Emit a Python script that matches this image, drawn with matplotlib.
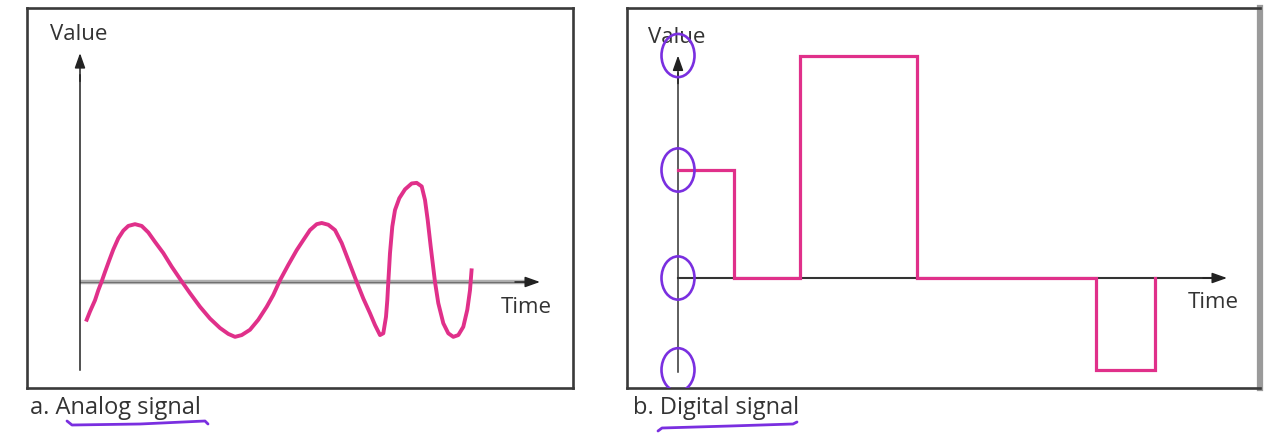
import matplotlib
matplotlib.use("Agg")
import matplotlib.pyplot as plt
from matplotlib.patches import Ellipse
from matplotlib.lines import Line2D

plt.rcParams['font.family'] = ['Open Sans', 'DejaVu Sans']

# analog signal (time in arbitrary units, value relative to first peak)
analog_t = [0.6, 1.0, 1.5, 1.83, 2.17, 2.5, 2.93, 3.33, 3.83, 4.33, 4.83, 5.5,
            6.17, 6.83, 7.5, 8.33, 9.17, 10.17, 11.0, 12.0, 13.0, 14.0, 14.83,
            15.5, 16.17, 17.0, 17.83, 18.67, 19.33, 20.0, 20.83, 21.67, 22.33,
            23.0, 23.67, 24.17, 24.83, 25.5, 26.17, 26.83, 27.67, 28.33, 29.0,
            29.5, 30.0, 30.33, 30.6, 30.73, 30.83, 31.0, 31.23, 31.5, 31.93,
            32.5, 33.17, 33.67, 34.17, 34.5, 34.77, 35.07, 35.5, 35.83, 36.33,
            36.83, 37.33, 37.83, 38.33, 38.73, 39.0, 39.17]
analog_v = [-0.67, -0.50, -0.31, -0.14, 0.01, 0.17, 0.37, 0.55, 0.74, 0.87, 0.95,
            0.98, 0.95, 0.84, 0.68, 0.49, 0.26, 0.01, -0.19, -0.42, -0.62, -0.78,
            -0.88, -0.93, -0.90, -0.81, -0.64, -0.42, -0.22, 0.03, 0.29, 0.54,
            0.71, 0.88, 0.98, 1.0, 0.97, 0.88, 0.66, 0.37, 0.0, -0.28, -0.53,
            -0.73, -0.90, -0.87, -0.59, -0.31, 0.0, 0.49, 0.94, 1.22, 1.42,
            1.57, 1.67, 1.68, 1.62, 1.39, 1.05, 0.60, 0.0, -0.36, -0.70,
            -0.87, -0.93, -0.90, -0.76, -0.47, -0.14, 0.23]

# digital signal: level changes
digital_t = [0.0, 5.6, 12.2, 23.9, 41.8, 47.7]
digital_v = [1.0, 0.0, 2.06, 0.0, -0.85, 0.0]

captions = ["a. Analog signal", "b. Digital signal"]

PINK = '#e0308a'
PURPLE = '#7a2fe0'
TEXT = '#333333'

fig = plt.figure(figsize=(12.8, 4.33), dpi=100)
W, H = 1280.0, 433.0


def panel(x0, x1, y0, y1):
    ax = fig.add_axes([x0 / W, 1 - y1 / H, (x1 - x0) / W, (y1 - y0) / H])
    ax.set_xticks([])
    ax.set_yticks([])
    for s in ax.spines.values():
        s.set_color('#3a3a3a')
        s.set_linewidth(1.9)
    return ax


def arrow(ax, start, tip, color='#222222', lw=1.1):
    ax.annotate('', xy=tip, xytext=start,
                arrowprops=dict(arrowstyle='-|>,head_length=0.9,head_width=0.32',
                                color=color, lw=lw, shrinkA=0, shrinkB=0))


# ---- a. analog ----
axa = panel(27, 573, 8, 388)
axa.set_xlim(-5.3, 49.3)
axa.set_ylim(-1.797, 4.644)
axa.plot([0, 44.5], [0, 0], color='#b0b0b0', lw=3.2, solid_capstyle='butt', zorder=1)
axa.plot([0, 44.5], [0, 0], color='#707070', lw=0.8, zorder=1)
arrow(axa, (43.5, 0), (46.0, 0))
axa.plot([0, 0], [-1.49, 3.5], color='#222222', lw=1.1, zorder=1)
arrow(axa, (0, 3.4), (0, 3.88))
axa.plot(analog_t, analog_v, color=PINK, lw=2.8, solid_joinstyle='round',
         solid_capstyle='butt', zorder=3)
axa.text(-0.1, 4.19, "Value", ha='center', va='center', fontsize=16, color=TEXT)
axa.text(44.6, -0.44, "Time", ha='center', va='center', fontsize=16, color=TEXT)

# ---- b. digital ----
axb = panel(627, 1260, 8, 388)
axb.spines['right'].set_color('#9a9a9a')
axb.spines['right'].set_linewidth(4.5)
axb.set_xlim(-5.1, 58.2)
axb.set_ylim(-1.0185, 2.5)
axb.plot([0, 53.5], [0, 0], color='#333333', lw=1.5, zorder=1)
arrow(axb, (52.5, 0), (54.9, 0))
axb.plot([0, 0], [-0.87, 1.9], color='#333333', lw=1.1, zorder=1)
arrow(axb, (0, 1.8), (0, 2.06))
axb.plot(digital_t, digital_v, drawstyle='steps-post', color=PINK, lw=2.3,
         solid_joinstyle='miter', zorder=3)
axb.text(-0.1, 2.23, "Value", ha='center', va='center', fontsize=16, color=TEXT)
axb.text(53.5, -0.23, "Time", ha='center', va='center', fontsize=16, color=TEXT)

# hand-drawn marks around the signal levels on the value axis
for lvl in sorted(set(digital_v)):
    axb.add_patch(Ellipse((0.0, lvl), 3.3, 0.40, fill=False,
                          edgecolor=PURPLE, lw=1.9, zorder=4))

# captions
fig.text(30 / W, 1 - 408 / H, captions[0], ha='left', va='center',
         fontsize=17, color=TEXT)
fig.text(633 / W, 1 - 408 / H, captions[1], ha='left', va='center',
         fontsize=17, color=TEXT)

# hand-drawn underlines
fig.add_artist(Line2D([67 / W, 72 / W, 140 / W, 205 / W, 208 / W],
                      [1 - 421 / H, 1 - 425 / H, 1 - 424 / H, 1 - 421 / H, 1 - 424 / H],
                      color=PURPLE, lw=2.0, solid_capstyle='round'))
fig.add_artist(Line2D([658 / W, 662 / W, 730 / W, 793 / W, 797 / W],
                      [1 - 431 / H, 1 - 428 / H, 1 - 426 / H, 1 - 424 / H, 1 - 422 / H],
                      color=PURPLE, lw=2.0, solid_capstyle='round'))

fig.savefig('out.png', dpi=100, facecolor='white')
